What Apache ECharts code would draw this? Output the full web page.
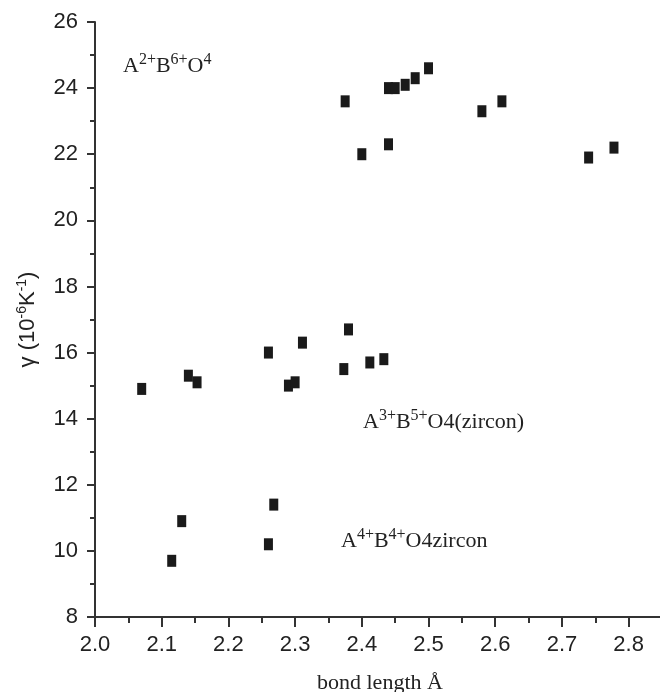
<!DOCTYPE html>
<html>
<head>
<meta charset="utf-8">
<script src="https://cdn.jsdelivr.net/npm/echarts@6/dist/echarts.min.js"></script>
<style>html,body{margin:0;padding:0;background:#fff}#c{width:660px;height:692px}</style>
</head>
<body>
<div id="c"></div>
<script>
// Group A2+B6+O4
const groupAX = [2.375, 2.40, 2.44, 2.44, 2.45, 2.465, 2.48, 2.50, 2.58, 2.61, 2.74, 2.778];
const groupAY = [23.6, 22.0, 24.0, 22.3, 24.0, 24.1, 24.3, 24.6, 23.3, 23.6, 21.9, 22.2];
// Group A3+B5+O4 (zircon)
const groupBX = [2.07, 2.14, 2.153, 2.26, 2.29, 2.30, 2.311, 2.373, 2.38, 2.412, 2.433];
const groupBY = [14.9, 15.3, 15.1, 16.0, 15.0, 15.1, 16.3, 15.5, 16.7, 15.7, 15.8];
// Group A4+B4+O4 zircon
const groupCX = [2.115, 2.13, 2.26, 2.268];
const groupCY = [9.7, 10.9, 10.2, 11.4];

// Axis ticks
const xMajorTicks = [2.0, 2.1, 2.2, 2.3, 2.4, 2.5, 2.6, 2.7, 2.8];
const xMinorTicks = [2.05, 2.15, 2.25, 2.35, 2.45, 2.55, 2.65, 2.75];
const xMin = 2.0, xMax = 2.847;
const yMin = 8, yMax = 26, yStep = 2;

function pairs(xs, ys) { return xs.map((x, i) => [x, ys[i]]); }

const chart = echarts.init(document.getElementById('c'), null, {renderer: 'canvas'});
const axisColor = '#333';
const labelColor = '#222';
const serif = '"Liberation Serif", "Times New Roman", serif';
const sans = '"Liberation Sans", Arial, sans-serif';

const richMain = {fontFamily: serif, fontSize: 22, lineHeight: 25, verticalAlign: 'bottom', color: '#222'};
const richSup = {fontFamily: serif, fontSize: 16, lineHeight: 16, verticalAlign: 'top', color: '#222'};

function annot(x, y, text) {
  return {
    type: 'text', left: x, top: y,
    style: {
      text: text,
      rich: {m: richMain, s: richSup},
      fill: '#222'
    }
  };
}

const series = [
  {name: 'A2+B6+O4', data: pairs(groupAX, groupAY)},
  {name: 'A3+B5+O4(zircon)', data: pairs(groupBX, groupBY)},
  {name: 'A4+B4+O4zircon', data: pairs(groupCX, groupCY)}
].map(s => ({
  type: 'scatter', name: s.name, data: s.data,
  xAxisIndex: 0, yAxisIndex: 0,
  symbol: 'rect', symbolSize: [9, 12],
  itemStyle: {color: '#1a1a1a', opacity: 1},
  emphasis: {disabled: true}
}));

chart.setOption({
  animation: false,
  backgroundColor: '#fff',
  grid: {left: 95, top: 22, right: 0, bottom: 75, containLabel: false},
  xAxis: [{
    type: 'value', min: xMin, max: xMax,
    axisLine: {show: true, lineStyle: {color: axisColor, width: 2}},
    axisTick: {show: true, inside: false, length: 10, customValues: xMajorTicks, lineStyle: {color: axisColor, width: 2}},
    splitLine: {show: false},
    axisLabel: {
      color: labelColor, fontFamily: sans, fontSize: 22, margin: 17,
      customValues: xMajorTicks,
      formatter: v => v.toFixed(1)
    }
  }, {
    type: 'value', min: xMin, max: xMax, position: 'bottom', offset: 0,
    axisLine: {show: false},
    axisTick: {show: true, inside: false, length: 6, customValues: xMinorTicks, lineStyle: {color: axisColor, width: 2}},
    axisLabel: {show: false},
    splitLine: {show: false}
  }],
  yAxis: {
    type: 'value', min: yMin, max: yMax, interval: yStep,
    axisLine: {show: true, lineStyle: {color: axisColor, width: 2}},
    axisTick: {show: true, inside: false, length: 8, lineStyle: {color: axisColor, width: 2}},
    minorTick: {show: true, splitNumber: 2, length: 5, lineStyle: {color: axisColor, width: 2}},
    splitLine: {show: false},
    axisLabel: {color: labelColor, fontFamily: sans, fontSize: 22, margin: 17},
    name: 'γ (10{s|-6}K{s|-1})',
    nameLocation: 'middle',
    nameGap: 54,
    nameRotate: 90,
    nameTextStyle: {
      color: labelColor, fontFamily: sans, fontSize: 22, lineHeight: 26, verticalAlign: 'bottom',
      rich: {
        s: {fontFamily: sans, fontSize: 14, lineHeight: 14, verticalAlign: 'top', color: labelColor}
      }
    }
  },
  graphic: [
    annot(123, 52, '{m|A}{s|2+}{m|B}{s|6+}{m|O}{s|4}'),
    annot(363, 408, '{m|A}{s|3+}{m|B}{s|5+}{m|O4(zircon)}'),
    annot(341, 527, '{m|A}{s|4+}{m|B}{s|4+}{m|O4zircon}'),
    {
      type: 'text', left: 317, top: 672,
      style: {text: 'bond length Å', font: '22px ' + serif, fill: '#222'}
    }
  ],
  series: series
});
</script>
</body>
</html>
